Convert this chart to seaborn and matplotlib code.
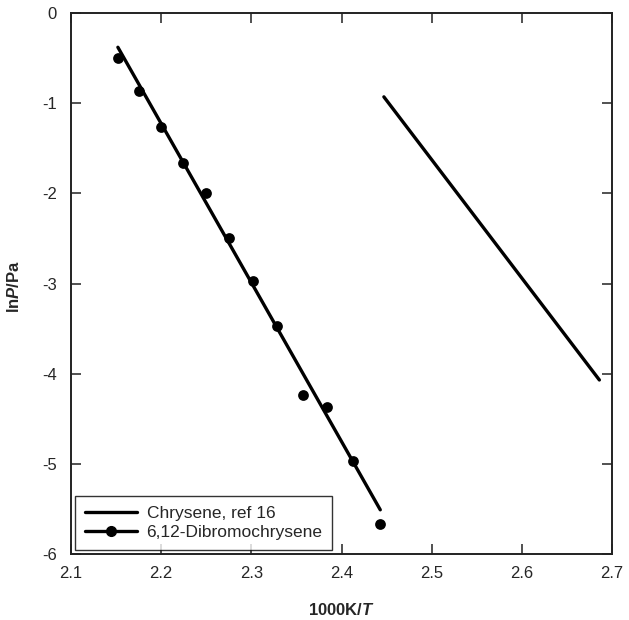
import matplotlib
matplotlib.use("Agg")
import matplotlib.pyplot as plt
import seaborn as sns
import pandas as pd
from matplotlib.lines import Line2D

# Data
dibromo_x = [2.152, 2.1756, 2.200, 2.2244, 2.250, 2.2756, 2.302, 2.329, 2.357, 2.384, 2.413, 2.443]
dibromo_lnP = [-0.50, -0.87, -1.26, -1.66, -2.00, -2.49, -2.97, -3.47, -4.24, -4.37, -4.97, -5.67]
fit_x = [2.152, 2.443]
fit_lnP = [-0.38, -5.51]
chrysene_x = [2.447, 2.686]
chrysene_lnP = [-0.93, -4.07]
x_ticks = [2.1, 2.2, 2.3, 2.4, 2.5, 2.6, 2.7]
y_ticks = [0, -1, -2, -3, -4, -5, -6]
legend_labels = ["Chrysene, ref 16", "6,12-Dibromochrysene"]

sns.set_theme(style="ticks")
plt.rcParams['font.family'] = ['Liberation Sans', 'DejaVu Sans']
plt.rcParams['mathtext.fontset'] = 'custom'
plt.rcParams['mathtext.it'] = 'Liberation Sans:italic:bold'
plt.rcParams['mathtext.rm'] = 'Liberation Sans:bold'

fig = plt.figure(figsize=(6.29, 6.20), dpi=100)
ax = fig.add_axes([71/629, 1-554/620, (612-71)/629, (554-13)/620])

df_pts = pd.DataFrame({"x": dibromo_x, "y": dibromo_lnP})
df_fit = pd.DataFrame({"x": fit_x, "y": fit_lnP})
df_chr = pd.DataFrame({"x": chrysene_x, "y": chrysene_lnP})

sns.lineplot(data=df_fit, x="x", y="y", ax=ax, color="black", linewidth=2.4, legend=False)
sns.lineplot(data=df_chr, x="x", y="y", ax=ax, color="black", linewidth=2.4, legend=False)
sns.scatterplot(data=df_pts, x="x", y="y", ax=ax, color="black", s=60, edgecolor="black", linewidth=0, legend=False, zorder=3)

ax.set_xlim(2.1, 2.7)
ax.set_ylim(-6, 0)
ax.set_xticks(x_ticks)
ax.set_yticks(y_ticks)
ax.set_xticklabels([f"{v:.1f}" for v in x_ticks], fontsize=12)
ax.set_yticklabels([f"{v:d}" for v in y_ticks], fontsize=12)
ax.tick_params(direction="in", length=7, width=1.2, top=True, right=True, color="#333333", pad=9)
ax.tick_params(axis="y", pad=10)
for sp in ax.spines.values():
    sp.set_linewidth(1.4)
    sp.set_color("#222222")

ax.set_xlabel("1000K/$\\it{T}$", fontsize=12, fontweight="bold")
ax.set_ylabel("ln$\\it{P}$/Pa", fontsize=12, fontweight="bold")
ax.xaxis.set_label_coords(0.5, -0.088)
ax.yaxis.set_label_coords(-0.09, 0.495)

handles = [Line2D([], [], color="black", linewidth=2.4),
           Line2D([], [], color="black", linewidth=2.4, marker="o", markersize=7)]
leg = ax.legend(handles, legend_labels, loc="lower left", fontsize=12.5, frameon=True,
                fancybox=False, edgecolor="black", handlelength=3.0, borderpad=0.55,
                labelspacing=0.25, handletextpad=0.55, borderaxespad=0.25)
leg.get_frame().set_linewidth(1.0)

fig.savefig("out.png", dpi=100)
